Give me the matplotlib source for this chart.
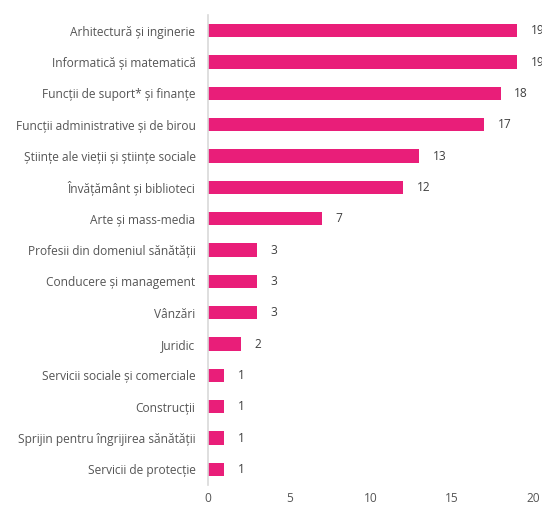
import matplotlib
matplotlib.use('Agg')
from matplotlib import pyplot as plt

# data (top to bottom as shown)
categories = [
    'Arhitectură și inginerie',
    'Informatică și matematică',
    'Funcții de suport* și finanțe',
    'Funcții administrative și de birou',
    'Științe ale vieții și științe sociale',
    'Învățământ și biblioteci',
    'Arte și mass-media',
    'Profesii din domeniul sănătății',
    'Conducere și management',
    'Vânzări',
    'Juridic',
    'Servicii sociale și comerciale',
    'Construcții',
    'Sprijin pentru îngrijirea sănătății',
    'Servicii de protecție',
]
values = [19, 19, 18, 17, 13, 12, 7, 3, 3, 3, 2, 1, 1, 1, 1]
x_ticks = [0, 5, 10, 15, 20]

plt.rcParams['font.family'] = ['Open Sans', 'DejaVu Sans']
text_color = '#555555'
bar_color = '#E91E79'
fs = 8.6

fig = plt.figure(figsize=(5.42, 5.07), dpi=100)
ax = fig.add_axes([208 / 542, 1 - 485 / 507, 325 / 542, 470 / 507])

ypos = list(range(len(categories)))[::-1]
ax.barh(ypos, values, height=0.42, color=bar_color)

# value labels (top two run off the right edge, as in the original)
for y, v in zip(ypos, values):
    ax.annotate(str(v), (v, y), xytext=(10, 0), textcoords='offset points',
                va='center', ha='left', fontsize=fs, color='#404040',
                annotation_clip=False)

ax.set_xlim(0, 20)
ax.set_ylim(-0.5, len(categories) - 0.5)
ax.set_yticks(ypos)
ax.set_yticklabels(categories, fontsize=fs, color=text_color)
ax.set_xticks(x_ticks)
ax.set_xticklabels([str(t) for t in x_ticks], fontsize=fs, color=text_color)
ax.tick_params(axis='both', length=0)
ax.tick_params(axis='y', pad=9)
ax.tick_params(axis='x', pad=5)

for side in ['top', 'right', 'bottom']:
    ax.spines[side].set_visible(False)
ax.spines['left'].set_color('#D9D9D9')
ax.spines['left'].set_linewidth(1.2)

fig.savefig('out.png', dpi=100)
